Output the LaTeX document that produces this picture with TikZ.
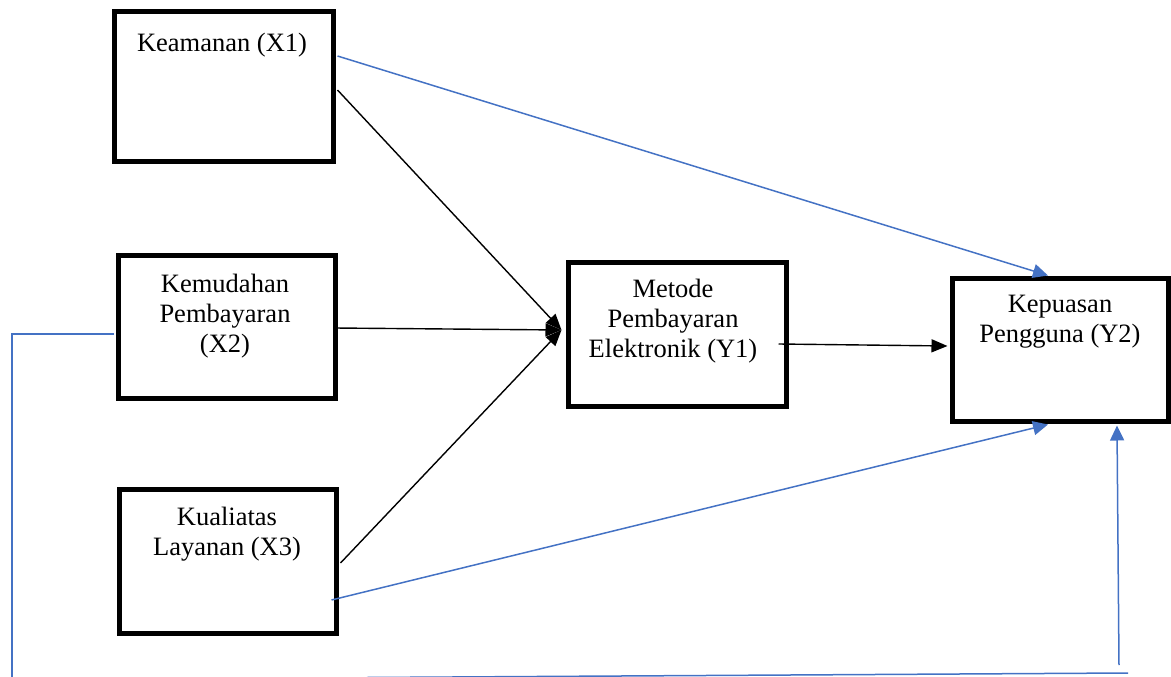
\documentclass[tikz,border=0pt]{standalone}
\usepackage{fontspec}
\setmainfont{Liberation Serif}
\usetikzlibrary{arrows.meta}
\definecolor{lineblue}{RGB}{68,114,196}
\begin{document}
\begin{tikzpicture}[x=1pt,y=-1pt,
  box/.style={draw=black,line width=5pt,rectangle,inner sep=0pt,fill=white},
  lbl/.style={anchor=north,align=center,inner sep=0pt,font=\fontsize{26.5}{30}\selectfont},
  blk/.style={draw=black,line width=1.4pt,-{Triangle[length=16pt,width=13pt]}},
  blu/.style={draw=lineblue,line width=1.5pt,-{Triangle[length=15pt,width=14pt]}},
  bluline/.style={draw=lineblue,line width=1.5pt}]
\useasboundingbox (0,0) rectangle (1171,677);
% boxes
\node[box,minimum width=219pt,minimum height=149pt] (x1) at (223.5,86.5) {};
\node[box,minimum width=217pt,minimum height=143pt] (x2) at (226.5,326.5) {};
\node[box,minimum width=217pt,minimum height=144pt] (x3) at (227.5,561) {};
\node[box,minimum width=218pt,minimum height=144pt] (y1) at (677,334) {};
\node[box,minimum width=216pt,minimum height=143pt] (y2) at (1060,349.5) {};
% labels
\node[lbl] (t1) at (222,33) {Keamanan (X1)};
\node[lbl] (t2) at (225,274) {Kemudahan\\Pembayaran\\(X2)};
\node[lbl] (t3) at (227,507) {Kualiatas\\Layanan (X3)};
\node[lbl] (t4) at (673,279) {Metode\\Pembayaran\\Elektronik (Y1)};
\node[lbl] (t5) at (1060,295) {Kepuasan\\Pengguna (Y2)};
% coordinates
\coordinate (hub) at ([yshift=4pt]y1.west);
\coordinate (y2top) at ([xshift=-12pt,yshift=0pt]y2.north);
\coordinate (y2bot) at ([xshift=-12pt,yshift=-1pt]y2.south);
\coordinate (y2bot2) at ([xshift=57pt,yshift=-2pt]y2.south);
\coordinate (upstart) at (1119,665);
\coordinate (leftcorner) at (12,334);
\coordinate (leftend) at (12,677);
\coordinate (botstart) at (367,677.5);
\coordinate (botend) at (1128,673);
% black connectors
\draw[blk] ([xshift=2pt,yshift=-3.5pt]x1.east) -- ([xshift=-4pt]hub);
\draw[blk] ([xshift=-3pt,yshift=-1.5pt]x2.east) -- ([xshift=-4pt]hub);
\draw[blk] ([xshift=2pt,yshift=-2pt]x3.east) -- ([xshift=-4pt]hub);
\draw[blk] ([xshift=-10pt,yshift=-10pt]y1.east) -- ([xshift=-2pt,yshift=3.5pt]y2.west);
% blue connectors
\draw[blu] ([xshift=2pt,yshift=30.5pt]x1.east) -- (y2top);
\draw[blu] ([xshift=-7pt,yshift=-39pt]x3.east) -- (y2bot);
\draw[blu] (upstart) -- (y2bot2);
\draw[bluline] ([xshift=-2pt,yshift=-7.5pt]x2.west) -- (leftcorner) -- (leftend);
\draw[bluline] (botstart) -- (botend);
\end{tikzpicture}
\end{document}
